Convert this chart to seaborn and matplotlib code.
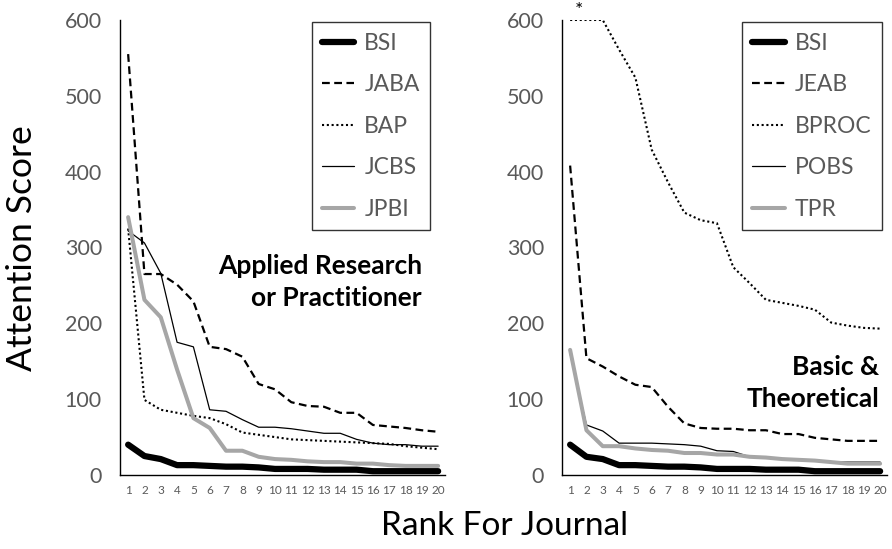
import numpy as np
import pandas as pd
import matplotlib
matplotlib.use("Agg")
import matplotlib.pyplot as plt
import seaborn as sns

ranks = list(range(1, 21))

# Applied research / practitioner journals
bsi_left = [40, 25, 21, 13, 13, 12, 11, 11, 10, 8, 8, 8, 7, 7, 7, 5, 5, 5, 5, 5]
jaba = [555, 265, 265, 251, 229, 169, 166, 156, 120, 113, 96, 91, 90, 82, 82, 66, 64, 62, 59, 57]
bap = [325, 99, 86, 82, 78, 75, 67, 56, 53, 50, 47, 46, 45, 44, 43, 42, 41, 38, 36, 34]
jcbs = [322, 306, 266, 175, 169, 86, 84, 73, 63, 63, 61, 58, 55, 55, 47, 42, 40, 40, 38, 38]
jpbi = [340, 231, 208, 139, 75, 62, 32, 32, 24, 21, 20, 18, 17, 17, 15, 15, 13, 12, 12, 12]

# Basic & theoretical journals
bsi_right = [40, 24, 21, 13, 13, 12, 11, 11, 10, 8, 8, 8, 7, 7, 7, 5, 5, 5, 5, 5]
jeab = [408, 154, 143, 130, 119, 116, 90, 68, 62, 61, 61, 59, 59, 54, 54, 49, 47, 45, 45, 45]
bproc = [600, 600, 600, 561, 524, 429, 386, 346, 336, 332, 274, 253, 231, 227, 223, 218, 201, 197, 194, 193]
pobs = [160, 66, 58, 42, 42, 42, 41, 40, 38, 32, 31, 24, 23, 21, 20, 19, 17, 17, 17, 17]
tpr = [165, 59, 38, 38, 35, 33, 32, 29, 29, 27, 27, 24, 23, 21, 20, 19, 17, 15, 15, 15]

yticks = [0, 100, 200, 300, 400, 500, 600]

sns.set_theme(style="white")
plt.rcParams['font.family'] = ['Lato', 'DejaVu Sans']

fig = plt.figure(figsize=(8.92, 5.49), dpi=100)
axL = fig.add_axes([0.1345, 0.1348, 0.364, 0.8288])
axR = fig.add_axes([0.630, 0.1348, 0.364, 0.8288])

gray = "#595959"
styles = [
    dict(color="black", lw=4.5, ls="-"),
    dict(color="black", lw=1.6, ls=(0, (3.5, 2))),
    dict(color="black", lw=1.5, ls=(0, (1, 1.3))),
    dict(color="black", lw=0.9, ls="-"),
    dict(color="#a6a6a6", lw=2.9, ls="-"),
]

def draw(ax, series, names):
    for vals, name, st in zip(series, names, styles):
        df = pd.DataFrame({"rank": ranks, "score": vals})
        sns.lineplot(data=df, x="rank", y="score", ax=ax, color=st["color"],
                     linewidth=st["lw"], linestyle=st["ls"], label=name,
                     solid_capstyle="round")
    ax.set_xlim(0.5, 20.4)
    ax.set_ylim(0, 600)
    ax.set_xticks(ranks)
    ax.set_xticklabels([str(r) for r in ranks], fontsize=8.5, color=gray)
    ax.set_yticks(yticks)
    ax.set_yticklabels([str(t) for t in yticks], fontsize=15.5, color=gray)
    ax.tick_params(axis="y", pad=13, length=0)
    ax.tick_params(axis="x", pad=7, length=0)
    ax.set_xlabel("")
    ax.set_ylabel("")
    for s in ["top", "right"]:
        ax.spines[s].set_visible(False)
    for s in ["left", "bottom"]:
        ax.spines[s].set_color("black")
        ax.spines[s].set_linewidth(1.0)
    ax.grid(False)

draw(axL, [bsi_left, jaba, bap, jcbs, jpbi], ["BSI", "JABA", "BAP", "JCBS", "JPBI"])
draw(axR, [bsi_right, jeab, bproc, pobs, tpr], ["BSI", "JEAB", "BPROC", "POBS", "TPR"])

for ax, anchor in [(axL, (0.955, 0.995)), (axR, (0.985, 0.995))]:
    leg = ax.legend(loc="upper right", bbox_to_anchor=anchor, fontsize=16.5,
                    frameon=True, fancybox=False, handlelength=1.4,
                    labelspacing=0.90, borderpad=0.45, handletextpad=0.45,
                    borderaxespad=0.0)
    leg.get_frame().set_edgecolor("black")
    leg.get_frame().set_linewidth(1.0)
    for t in leg.get_texts():
        t.set_color(gray)

axL.text(0.930, 0.362, "Applied Research\nor Practitioner", transform=axL.transAxes,
         ha="right", va="bottom", fontsize=19, fontweight="bold",
         linespacing=1.4, color="black")
axR.text(0.978, 0.140, "Basic &\nTheoretical", transform=axR.transAxes,
         ha="right", va="bottom", fontsize=19, fontweight="bold",
         linespacing=1.4, color="black")
axR.text(1.55, 601, "*", ha="center", va="bottom", fontsize=14, color="black",
         clip_on=False)

fig.text(0.025, 0.548, "Attention Score", rotation=90, ha="center", va="center",
         fontsize=25.5, color="black")
fig.text(0.566, 0.042, "Rank For Journal", ha="center", va="center",
         fontsize=24, color="black")

fig.savefig("out.png", dpi=100)
